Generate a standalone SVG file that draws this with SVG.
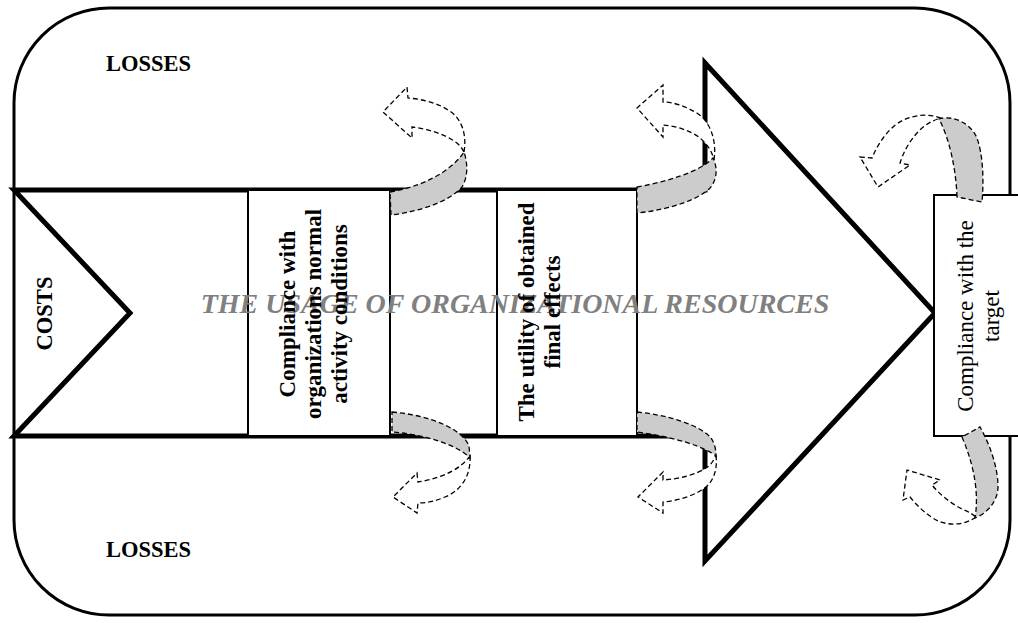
<svg xmlns="http://www.w3.org/2000/svg" width="1018" height="623" viewBox="0 0 1018 623">
<style>
.frame{fill:none;stroke:#000;stroke-width:3}
.big{fill:#fff;stroke:#000;stroke-width:5;stroke-linejoin:miter}
.box{fill:#fff;stroke:#000;stroke-width:2}
.lbl{font-family:"Liberation Serif","Times New Roman",serif;font-size:23px;font-weight:bold;fill:#000}
.reg{font-family:"Liberation Serif","Times New Roman",serif;font-size:23px;fill:#000}
.title{font-family:"Liberation Serif","Times New Roman",serif;font-size:28px;font-weight:bold;font-style:italic;fill:#808080}
.front{fill:#cccccc;stroke:#000;stroke-width:1.3;stroke-dasharray:5 3}
.back{fill:#fff;stroke:#000;stroke-width:1.3;stroke-dasharray:5 3}
</style>
<rect id="frame" class="frame" x="14" y="8" width="996" height="607" rx="95" ry="95"/>
<g id="main-arrow">
<polygon class="big" points="14,190 705,190 705,63 935,313 705,561 705,436 14,436 130,313"/>
</g>
<text id="losses-top" class="lbl" x="106" y="71" style="font-size:22.5px">LOSSES</text>
<text id="losses-bottom" class="lbl" x="106" y="557" style="font-size:22.5px">LOSSES</text>
<g id="costs">
<text class="lbl" transform="translate(52,313.5) rotate(-90)" text-anchor="middle" style="font-size:22.5px">COSTS</text>
</g>
<g id="box-normal">
<rect class="box" x="248" y="190" width="142" height="246"/>
</g>
<g id="box-utility">
<rect class="box" x="497" y="190" width="140" height="246"/>
</g>
<text id="title" class="title" x="515" y="313" text-anchor="middle">THE USAGE OF ORGANIZATIONAL RESOURCES</text>
<text class="lbl" transform="translate(295,314) rotate(-90)" text-anchor="middle"><tspan x="0" y="0">Compliance with</tspan><tspan x="0" y="26">organizations normal</tspan><tspan x="0" y="52">activity conditions</tspan></text>
<text class="lbl" transform="translate(534,312) rotate(-90)" text-anchor="middle"><tspan x="0" y="0">The utility of obtained</tspan><tspan x="0" y="26">final effects</tspan></text>
<g id="box-target">
<rect class="box" x="934" y="195" width="100" height="241"/>
<text class="reg" transform="translate(973,316) rotate(-90)" text-anchor="middle"><tspan x="0" y="0">Compliance with the</tspan><tspan x="0" y="26">target</tspan></text>
</g>
<g id="loss-arrows">
<path class="back" d="M464,152 C467,135 462,118 448,110 C436,102 420,99 408,98 L407,87 L383,112 L412,138 L412,127 C428,129 444,134 454,141 C459,144 462,148 464,152 Z"/>
<path class="front" d="M390,192 C420,187 450,173 464,152 C468,164 468,177 462,187 C450,201 422,211 391,215 Z"/>
<path class="back" d="M714,160 C717,140 710,120 695,112 C685,106 673,102 663,102 L663,85 L637,108 L663,137 L663,125 C675,126 690,130 700,138 C707,144 712,151 714,160 Z"/>
<path class="front" d="M637,187 C665,182 700,172 713,158 C718,168 717,180 710,188 C698,200 668,210 637,213 Z"/>
<path class="back" d="M470,456 C471,475 462,490 445,497 C436,501 427,503 418,503 L417,513 L393,497 L417,473 L418,482 C432,480 450,474 460,466 C464,463 467,460 470,456 Z"/>
<path class="front" d="M392,412 C428,415 462,428 469,446 L470,458 C460,447 430,435 392,432 Z"/>
<path class="back" d="M716,455 C718,472 712,485 700,491 C690,497 675,501 663,502 L663,513 L638,497 L663,472 L663,480 C680,479 697,474 706,468 C711,465 714,460 716,455 Z"/>
<path class="front" d="M637,412 C668,415 700,425 711,438 C715,444 716,450 716,456 C705,447 675,437 637,432 Z"/>
<path class="back" d="M941,118 C925,112 905,116 893,127 C883,136 876,148 872,158 L860,157 L878,187 L910,165 L900,163 C904,150 912,137 922,128 C928,123 934,120 941,118 Z"/>
<path class="front" d="M957,197 C956,170 950,140 939,119 C952,115 970,122 977,138 C983,155 984,180 982,202 Z"/>
<path class="back" d="M976,517 C965,525 950,526 938,521 C928,516 917,506 910,497 L903,500 L907,470 L940,480 L932,485 C940,495 952,504 962,509 C967,511 971,513 976,517 Z"/>
<path class="front" d="M962,437 C971,458 980,488 975,518 C990,512 999,498 998,484 C997,465 990,445 980,427 Z"/>
</g>
</svg>
